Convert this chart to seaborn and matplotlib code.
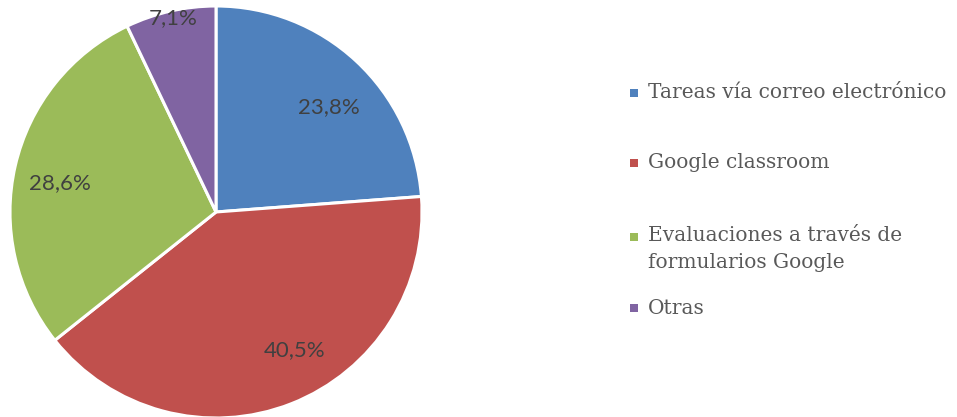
import matplotlib
matplotlib.use('Agg')
import matplotlib.pyplot as plt
import seaborn as sns
from matplotlib.patches import Rectangle

# datos del grafico
categorias = ['Tareas vía correo electrónico', 'Google classroom',
              'Evaluaciones a través de\nformularios Google', 'Otras']
porcentajes = [23.8, 40.5, 28.6, 7.1]
etiquetas = ['23,8%', '40,5%', '28,6%', '7,1%']

sns.set_theme(style='white')
colores = ['#4F81BD', '#C0504D', '#9BBB59', '#8064A2']

W, H = 957, 417
fig = plt.figure(figsize=(W / 100, H / 100), dpi=100)
fig.patch.set_facecolor('white')

# pie: centro ~(216, 212) px, radio ~206 px
ax = fig.add_axes([10 / W, (H - 212 - 206) / H, 412 / W, 412 / H])
wedges, _ = ax.pie(porcentajes, colors=colores, startangle=90, counterclock=False,
                   radius=1, wedgeprops=dict(edgecolor='white', linewidth=2.2))
ax.set_xlim(-1, 1)
ax.set_ylim(-1, 1)
ax.set_aspect('equal')
ax.axis('off')

# posicion de las etiquetas (como en la figura original)
pos_etiquetas = [(0.55, 0.51), (0.38, -0.67), (-0.76, 0.14), (-0.21, 0.94)]
for txt, (x, y) in zip(etiquetas, pos_etiquetas):
    ax.text(x, y, txt, ha='center', va='center', fontsize=16,
            color='#404040', family=['Lato', 'DejaVu Sans'])

# leyenda manual
ley_y = [93, 163, 237, 308]
for cat, col, y in zip(categorias, colores, ley_y):
    fig.add_artist(Rectangle(((634 - 4) / W, (H - y - 4) / H), 8 / W, 8 / H,
                             transform=fig.transFigure, facecolor=col, edgecolor='none'))
    multi = '\n' in cat
    fig.text(648 / W, (H - y + (11 if multi else 0)) / H, cat, ha='left',
             va='top' if multi else 'center',
             fontsize=14.5, color='#595959', family=['DejaVu Serif'],
             linespacing=1.55)

fig.savefig('out.png', dpi=100)
